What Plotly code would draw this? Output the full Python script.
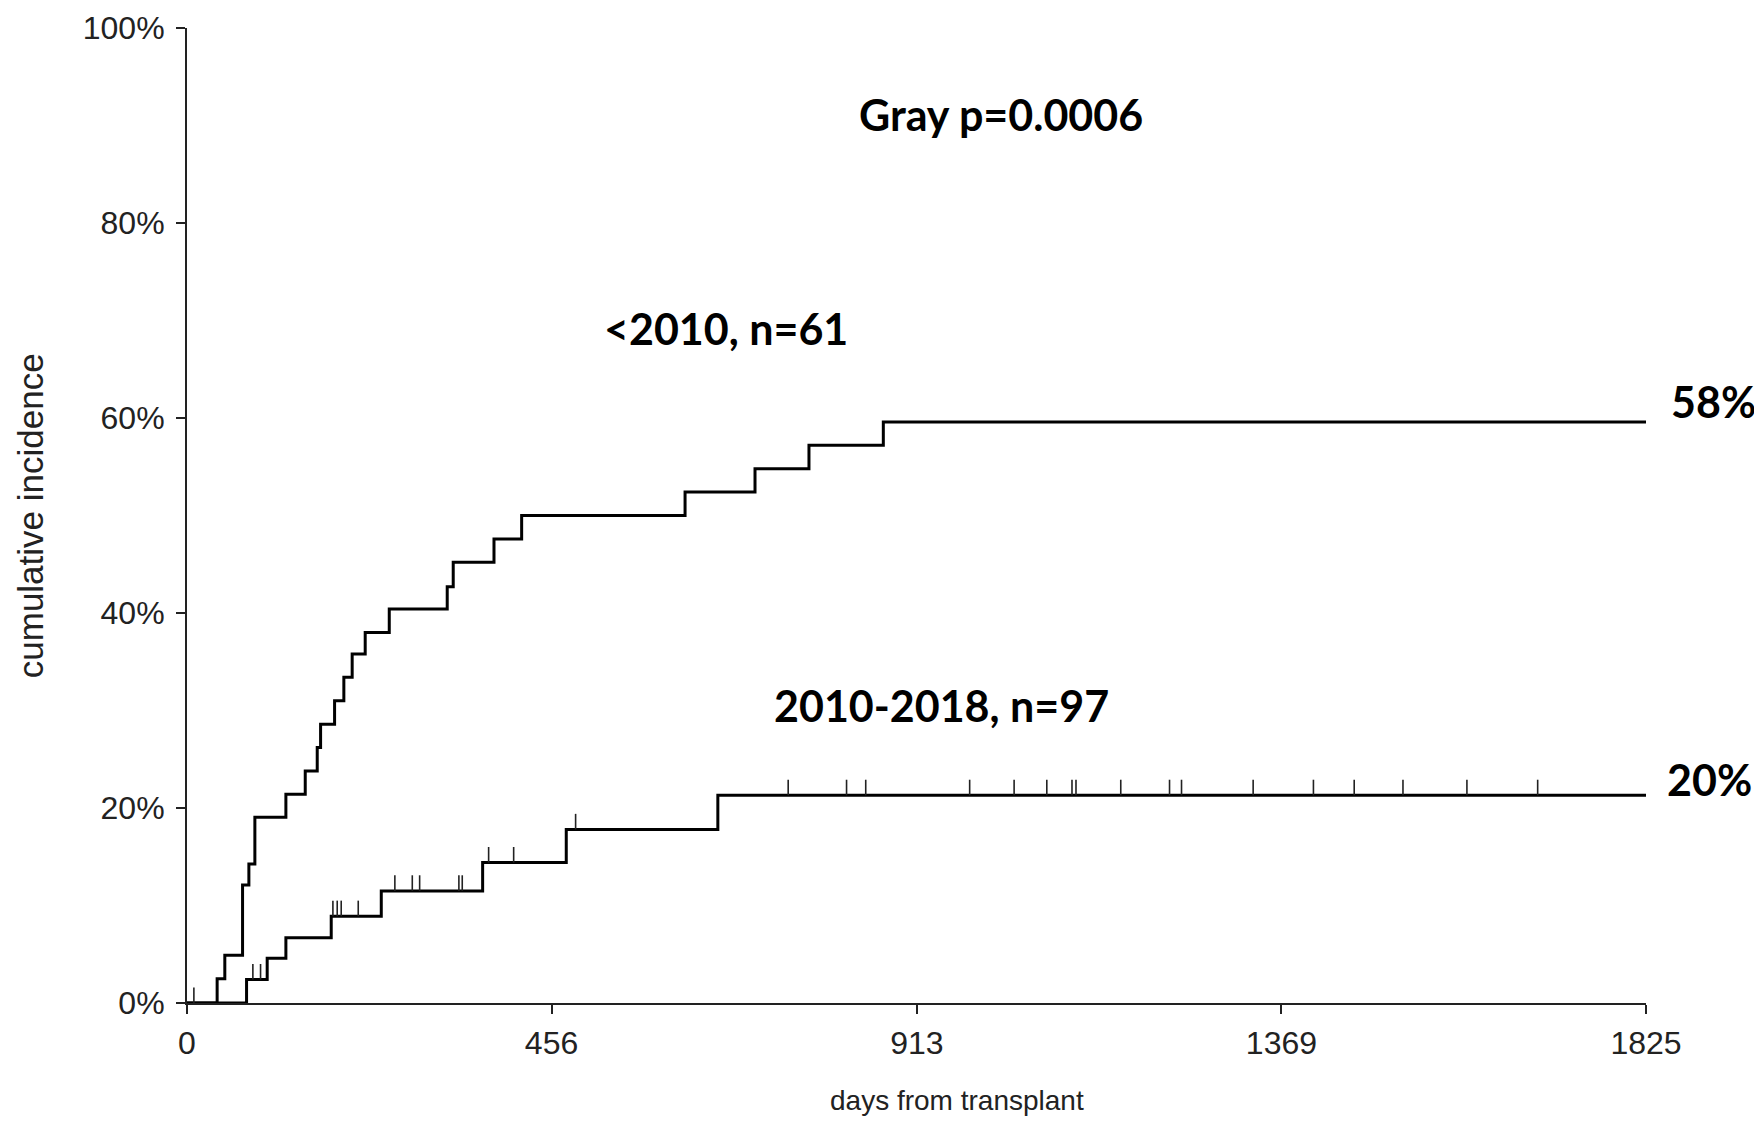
import plotly.graph_objects as go

# ---- data (days from transplant, cumulative incidence %) ----
early_days = [0, 37.7, 47.3, 69.5, 77.4, 84.9, 123.7, 147.9, 162.9, 167.1, 184.6, 196.2,
              206.6, 222.9, 253.0, 325.5, 333.0, 384.0, 418.6, 623.0, 710.5, 778.0, 871.0, 1825]
early_inc = [0, 2.5, 4.9, 12.1, 14.25, 19.05, 21.4, 23.8, 26.2, 28.6, 31.0, 33.4,
             35.8, 38.0, 40.4, 42.7, 45.2, 47.6, 50.0, 52.4, 54.8, 57.2, 59.6, 59.6]

late_days = [0, 74.5, 100.3, 123.7, 180.4, 243.0, 369.8, 474.4, 664.0, 1825]
late_inc = [0, 2.4, 4.6, 6.7, 8.9, 11.5, 14.4, 17.8, 21.3, 21.3]

late_censor_days = [8.6, 82.4, 92.0, 182.5, 187.9, 192.9, 214.2, 260.0, 281.8, 291.0,
                    340.1, 344.3, 377.3, 408.6, 486.1, 752, 825, 849, 979, 1034.6,
                    1075.5, 1107, 1112, 1168, 1229, 1244, 1333.6, 1409, 1460, 1521,
                    1601, 1689.5]

x_ticks = [0, 456, 913, 1369, 1825]
y_ticks = [0, 20, 40, 60, 80, 100]

label_early = "<2010, n=61"
label_late = "2010-2018, n=97"
p_text = "Gray p=0.0006"
end_early = "58%"
end_late = "20%"
x_title = "days from transplant"
y_title = "cumulative incidence"

X_MAX = x_ticks[-1]


def step_value(days, inc, t):
    v = inc[0]
    for d, p in zip(days, inc):
        if d <= t:
            v = p
    return v


TICK_H = 1.6  # censor mark height in % units
cx, cy = [], []
for t in late_censor_days:
    base = step_value(late_days, late_inc, t)
    cx += [t, t, None]
    cy += [base, base + TICK_H, None]

fig = go.Figure()
fig.add_trace(go.Scatter(x=early_days, y=early_inc, mode="lines", line_shape="hv",
                         line=dict(color="black", width=3), showlegend=False,
                         hoverinfo="skip"))
fig.add_trace(go.Scatter(x=late_days, y=late_inc, mode="lines", line_shape="hv",
                         line=dict(color="black", width=3), showlegend=False,
                         hoverinfo="skip"))
fig.add_trace(go.Scatter(x=cx, y=cy, mode="lines", line=dict(color="#222", width=1.6),
                         showlegend=False, hoverinfo="skip"))

bold = dict(family="Lato, Open Sans, sans-serif", size=43, color="black")
anns = [
    dict(x=1018, y=91.1, text="<b>" + p_text + "</b>"),
    dict(x=674, y=69.2, text="<b>" + label_early.replace("<", "&lt;") + "</b>"),
    dict(x=943.5, y=30.5, text="<b>" + label_late + "</b>"),
]
for a in anns:
    fig.add_annotation(xref="x", yref="y", showarrow=False, font=bold,
                       xanchor="center", yanchor="middle", **a)
# end-of-curve percentages, placed beyond the right end of the x axis
fig.add_annotation(xref="paper", yref="y", x=1909 / X_MAX, y=61.7, showarrow=False,
                   text="<b>" + end_early + "</b>", font=bold,
                   xanchor="center", yanchor="middle")
fig.add_annotation(xref="paper", yref="y", x=1904 / X_MAX, y=22.9, showarrow=False,
                   text="<b>" + end_late + "</b>", font=bold,
                   xanchor="center", yanchor="middle")

fig.add_annotation(xref="paper", yref="paper", x=0.5277, y=-0.100, showarrow=False,
                   text=x_title,
                   font=dict(family="Liberation Sans, Arial, sans-serif", size=28, color="#222"),
                   xanchor="center", yanchor="middle")
fig.add_annotation(xref="paper", yref="paper", x=-0.1071, y=0.5, showarrow=False,
                   text=y_title, textangle=-90,
                   font=dict(family="Liberation Sans, Arial, sans-serif", size=35, color="#222"),
                   xanchor="center", yanchor="middle")

axis_font = dict(family="Liberation Sans, Arial, sans-serif", size=32, color="#222")
fig.update_xaxes(range=[0, X_MAX], tickvals=x_ticks, ticktext=[str(v) for v in x_ticks],
                 showgrid=False, zeroline=False, showline=True, linecolor="#222",
                 linewidth=2, ticks="outside", ticklen=9, tickwidth=1.5, tickcolor="#222",
                 tickfont=axis_font, ticklabelstandoff=2, automargin=False)
fig.update_yaxes(range=[0, 100], tickvals=y_ticks, ticktext=[f"{v}%" for v in y_ticks],
                 showgrid=False, zeroline=False, showline=True, linecolor="#222",
                 linewidth=2, ticks="outside", ticklen=9, tickwidth=1.5, tickcolor="#222",
                 tickfont=axis_font, ticklabelstandoff=5, automargin=False)

fig.update_layout(width=1762, height=1121, plot_bgcolor="white", paper_bgcolor="white",
                  margin=dict(l=179, r=124, t=20, b=126, autoexpand=False))
fig.write_html("out.html")
